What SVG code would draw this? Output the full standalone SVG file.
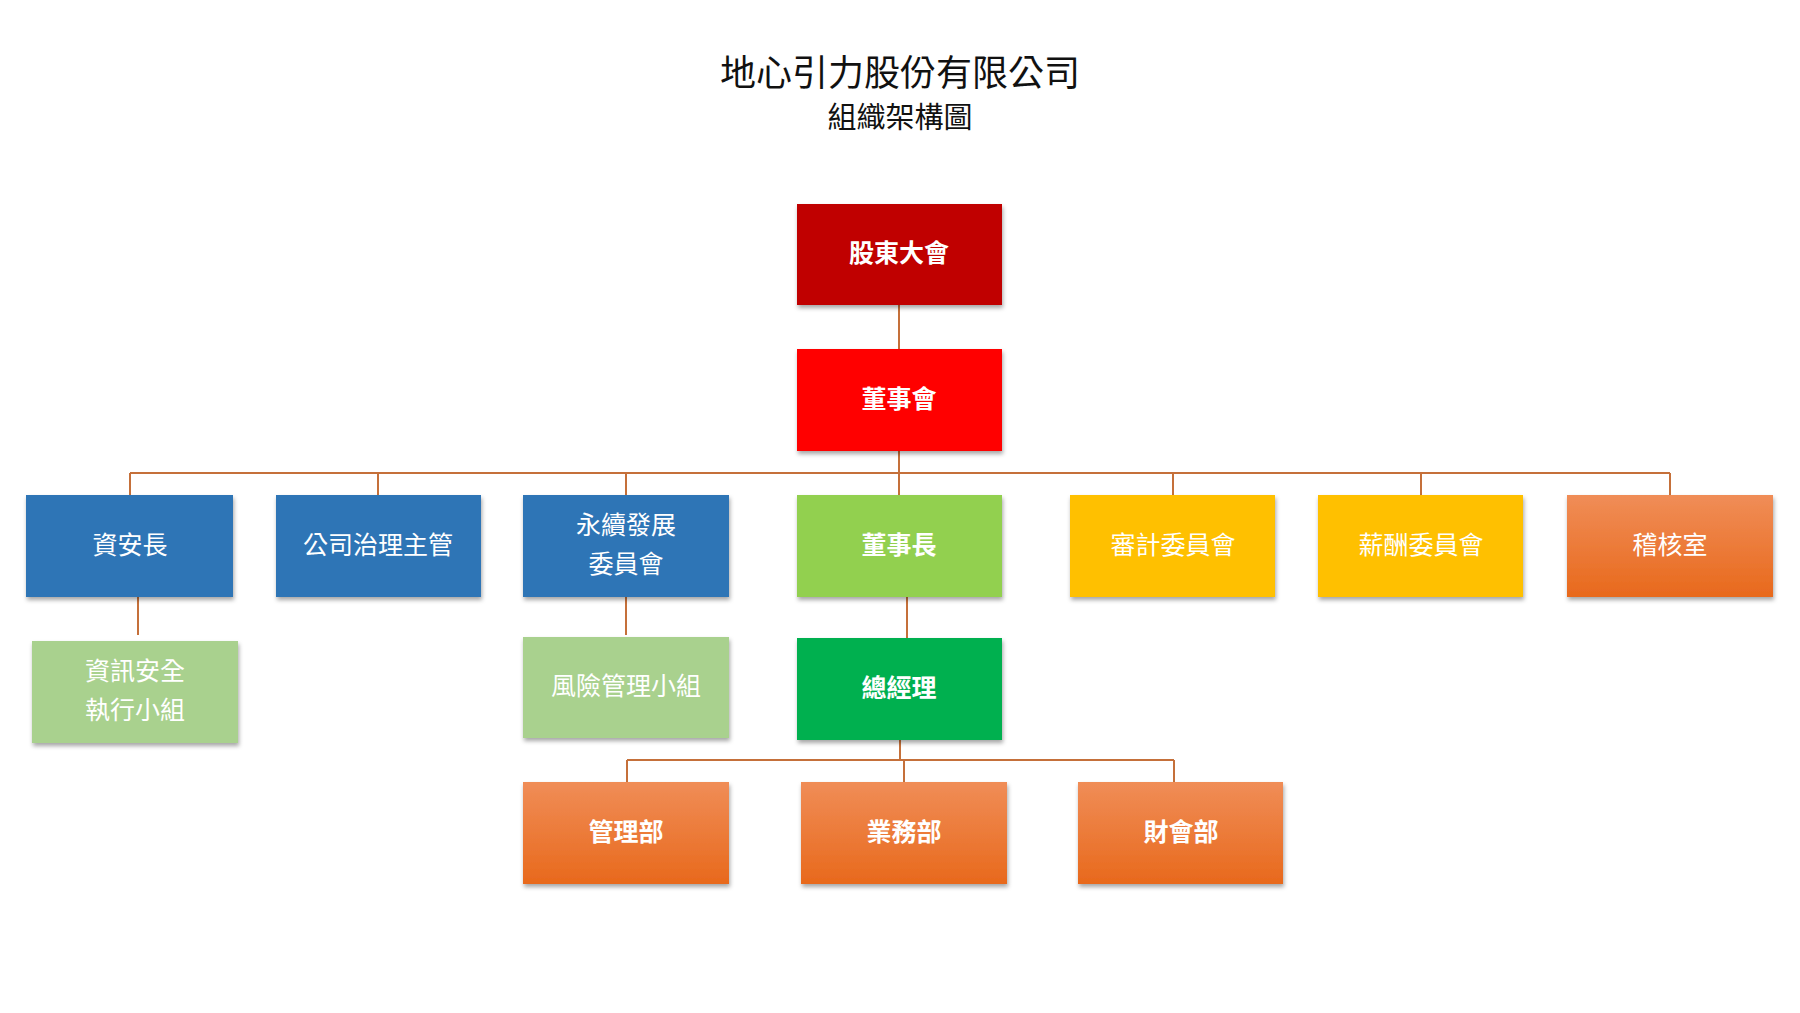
<svg xmlns="http://www.w3.org/2000/svg" width="1800" height="1013" viewBox="0 0 1800 1013">
<style>
text{font-family:"Noto Sans CJK TC","Noto Sans CJK SC",sans-serif;text-anchor:middle;dominant-baseline:central}
.t{fill:#fff;font-size:25px}
.b{font-weight:bold}
.ln{stroke:#C5703A;stroke-width:2;fill:none}
</style>
<defs>
<filter id="sh" x="-10%" y="-10%" width="125%" height="130%"><feDropShadow dx="1" dy="3" stdDeviation="2" flood-color="#000" flood-opacity="0.35"/></filter>
<linearGradient id="og" x1="0" y1="0" x2="0" y2="1"><stop offset="0" stop-color="#F08D57"/><stop offset="1" stop-color="#E8691C"/></linearGradient>
</defs>
<rect width="1800" height="1013" fill="#fff"/>
<text x="900" y="70" font-size="36" fill="#111">地心引力股份有限公司</text>
<text x="900" y="115" font-size="29" fill="#111">組織架構圖</text>
<g id="connectors">
<path class="ln" d="M899 305V349M899 451V495M130 473H1670M130 473V495M378 473V495M626 473V495M1173 473V495M1421 473V495M1670 473V495M138 594V635M626 597V635M907 597V638M900 740V760M627 760H1174M627 760V782M904 760V782M1174 760V782"/>
</g>
<g id="n1"><rect x="797" y="204" width="205" height="101" fill="#C00000" filter="url(#sh)"/><text class="t b" x="899" y="251">股東大會</text></g>
<g id="n2"><rect x="797" y="349" width="205" height="102" fill="#FF0000" filter="url(#sh)"/><text class="t b" x="899" y="397">董事會</text></g>
<g id="n3"><rect x="26" y="495" width="207" height="102" fill="#2E75B6" filter="url(#sh)"/><text class="t" x="130" y="543">資安長</text></g>
<g id="n4"><rect x="276" y="495" width="205" height="102" fill="#2E75B6" filter="url(#sh)"/><text class="t" x="378" y="543">公司治理主管</text></g>
<g id="n5"><rect x="523" y="495" width="206" height="102" fill="#2E75B6" filter="url(#sh)"/><text class="t" x="626" y="523">永續發展</text><text class="t" x="626" y="562">委員會</text></g>
<g id="n6"><rect x="797" y="495" width="205" height="102" fill="#92D050" filter="url(#sh)"/><text class="t b" x="899" y="543">董事長</text></g>
<g id="n7"><rect x="1070" y="495" width="205" height="102" fill="#FFC000" filter="url(#sh)"/><text class="t" x="1173" y="543">審計委員會</text></g>
<g id="n8"><rect x="1318" y="495" width="205" height="102" fill="#FFC000" filter="url(#sh)"/><text class="t" x="1421" y="543">薪酬委員會</text></g>
<g id="n9"><rect x="1567" y="495" width="206" height="102" fill="url(#og)" filter="url(#sh)"/><text class="t" x="1670" y="543">稽核室</text></g>
<g id="n10"><rect x="32" y="641" width="206" height="102" fill="#A9D18E" filter="url(#sh)"/><text class="t" x="135" y="669">資訊安全</text><text class="t" x="135" y="708">執行小組</text></g>
<g id="n11"><rect x="523" y="637" width="206" height="101" fill="#A9D18E" filter="url(#sh)"/><text class="t" x="626" y="684">風險管理小組</text></g>
<g id="n12"><rect x="797" y="638" width="205" height="102" fill="#00B050" filter="url(#sh)"/><text class="t b" x="899" y="686">總經理</text></g>
<g id="n13"><rect x="523" y="782" width="206" height="102" fill="url(#og)" filter="url(#sh)"/><text class="t b" x="626" y="830">管理部</text></g>
<g id="n14"><rect x="801" y="782" width="206" height="102" fill="url(#og)" filter="url(#sh)"/><text class="t b" x="904" y="830">業務部</text></g>
<g id="n15"><rect x="1078" y="782" width="205" height="102" fill="url(#og)" filter="url(#sh)"/><text class="t b" x="1181" y="830">財會部</text></g>
</svg>
